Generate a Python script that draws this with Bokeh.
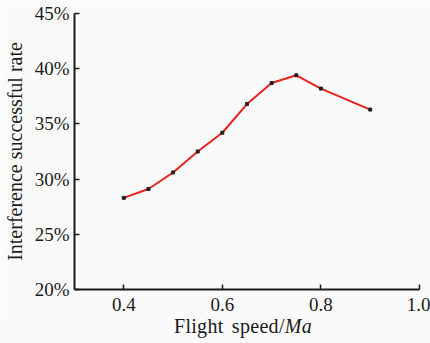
from bokeh.plotting import figure
from bokeh.models import Range1d, FixedTicker, PrintfTickFormatter, Div
from bokeh.layouts import column
from bokeh.embed import file_html
from bokeh.resources import INLINE

speed = [0.4, 0.45, 0.5, 0.55, 0.6, 0.65, 0.7, 0.75, 0.8, 0.9]
rate = [28.3, 29.1, 30.6, 32.5, 34.2, 36.8, 38.7, 39.4, 38.2, 36.3]
x_ticks = [0.4, 0.6, 0.8, 1.0]
y_ticks = [20, 25, 30, 35, 40, 45]
x_label = "Flight speed/"
x_label_unit = "Ma"
y_label = "Interference successful rate"

FONT = "Liberation Serif"
BG = "#fafafa"

p = figure(width=430, height=318, output_backend="svg", toolbar_location=None,
           x_range=Range1d(0.3, 1.0), y_range=Range1d(20, 45),
           min_border_left=73, min_border_right=11, min_border_top=13, min_border_bottom=29)
p.background_fill_color = BG
p.border_fill_color = BG
p.outline_line_color = None
p.grid.visible = False

p.line(speed, rate, line_color="#e8211c", line_width=2)
p.scatter(speed, rate, marker="square", size=3, fill_color="#222222", line_color="#222222")

for ax in (p.xaxis[0], p.yaxis[0]):
    ax.axis_line_color = "#1a1a1a"
    ax.axis_line_width = 2
    ax.major_tick_line_color = "#1a1a1a"
    ax.major_tick_line_width = 1.5
    ax.major_tick_in = 5
    ax.major_tick_out = 0
    ax.minor_tick_line_color = None
    ax.major_label_text_font = FONT
    ax.major_label_text_font_size = "19px"
    ax.major_label_text_color = "#1a1a1a"

p.xaxis.ticker = FixedTicker(ticks=x_ticks)
p.xaxis.formatter = PrintfTickFormatter(format="%.1f")
p.xaxis.major_label_standoff = 8
p.yaxis.ticker = FixedTicker(ticks=y_ticks)
p.yaxis.formatter = PrintfTickFormatter(format="%d%%")
p.yaxis.major_label_standoff = 5
p.yaxis.axis_label = y_label
p.yaxis.axis_label_text_font = FONT
p.yaxis.axis_label_text_font_size = "20px"
p.yaxis.axis_label_text_font_style = "normal"
p.yaxis.axis_label_text_color = "#1a1a1a"
p.yaxis.axis_label_standoff = 6

div = Div(text=f"{x_label}<i>{x_label_unit}</i>", width=430, height=25, margin=0,
          styles={"background-color": BG, "font-family": "'Liberation Serif', serif",
                  "font-size": "20px", "line-height": "17px", "color": "#1a1a1a",
                  "text-align": "center", "padding-left": "56px",
                  "box-sizing": "border-box", "width": "430px", "height": "25px",
                  "word-spacing": "3px", "letter-spacing": "0.3px"})

layout = column(p, div, spacing=0, margin=0)

open("out.html", "w").write(file_html(layout, INLINE))
